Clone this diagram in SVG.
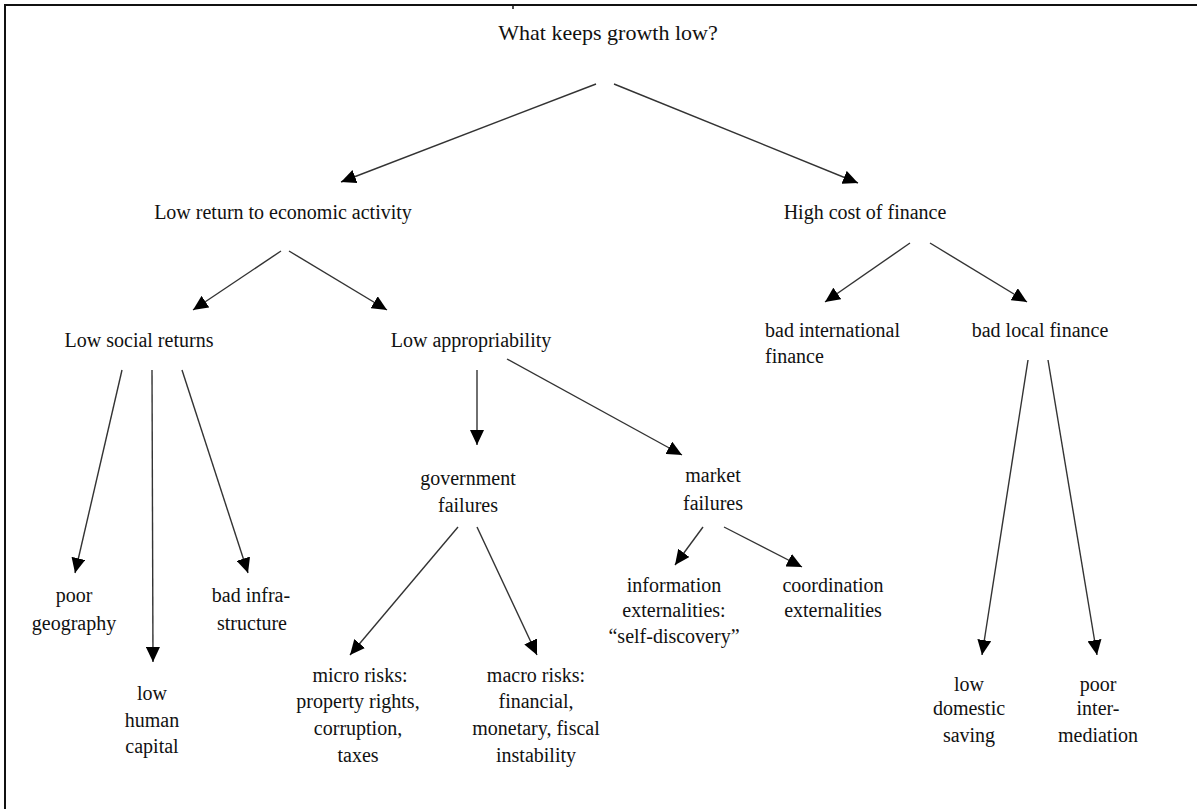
<svg xmlns="http://www.w3.org/2000/svg" width="1197" height="809" viewBox="0 0 1197 809">
<style>
text{font-family:'Liberation Serif','Times New Roman',Tinos,'DejaVu Serif',serif;font-size:20px;fill:#111;text-anchor:middle}
.t{font-size:22px}
.c line{stroke:#333;stroke-width:1.4;marker-end:url(#ah)}
.b{stroke:#111;stroke-width:2;fill:none}
</style>
<defs>
<marker id="ah" markerUnits="userSpaceOnUse" markerWidth="16" markerHeight="14" refX="15" refY="7" orient="auto">
<path d="M0,0 L15,7 L0,14 z" fill="#000"/>
</marker>
</defs>
<rect width="1197" height="809" fill="#fff"/>
<path class="b" d="M5,809 V5 H1197"/>
<line x1="513" y1="5" x2="513" y2="9" stroke="#111" stroke-width="1.5"/>
<g class="c">
<line x1="596" y1="84" x2="341" y2="182"/>
<line x1="614" y1="84" x2="858" y2="183"/>
<line x1="281" y1="251" x2="193" y2="310"/>
<line x1="289" y1="251" x2="387" y2="310"/>
<line x1="910" y1="243" x2="825" y2="302"/>
<line x1="930" y1="243" x2="1027" y2="302"/>
<line x1="122" y1="370" x2="75" y2="573"/>
<line x1="152" y1="370" x2="153" y2="662"/>
<line x1="182" y1="370" x2="248" y2="573"/>
<line x1="477" y1="370" x2="477" y2="445"/>
<line x1="507" y1="359" x2="682" y2="455"/>
<line x1="458" y1="527" x2="350" y2="655"/>
<line x1="477" y1="527" x2="537" y2="655"/>
<line x1="703" y1="527" x2="675" y2="565"/>
<line x1="724" y1="527" x2="802" y2="567"/>
<line x1="1028" y1="360" x2="982" y2="655"/>
<line x1="1048" y1="360" x2="1097" y2="655"/>
</g>
<g id="root"><text class="t" x="608" y="40" font-family="Liberation Serif">What keeps growth low?</text></g>
<g id="low-return"><text x="283" y="219">Low return to economic activity</text></g>
<g id="high-cost"><text x="865" y="219">High cost of finance</text></g>
<g id="low-social"><text x="139" y="347">Low social returns</text></g>
<g id="low-approp"><text x="471" y="347">Low appropriability</text></g>
<g id="bad-intl"><text x="765" y="337" style="text-anchor:start">bad international</text><text x="765" y="363" style="text-anchor:start">finance</text></g>
<g id="bad-local"><text x="1040" y="337">bad local finance</text></g>
<g id="poor-geo"><text x="74" y="602">poor</text><text x="74" y="630">geography</text></g>
<g id="low-human"><text x="152" y="700">low</text><text x="152" y="727">human</text><text x="152" y="753">capital</text></g>
<g id="bad-infra"><text x="251" y="602">bad infra-</text><text x="252" y="630">structure</text></g>
<g id="gov-fail"><text x="468" y="485">government</text><text x="468" y="512">failures</text></g>
<g id="mkt-fail"><text x="713" y="482">market</text><text x="713" y="510">failures</text></g>
<g id="micro"><text x="360" y="682">micro risks:</text><text x="358" y="708">property rights,</text><text x="358" y="735">corruption,</text><text x="358" y="762">taxes</text></g>
<g id="macro"><text x="536" y="682">macro risks:</text><text x="536" y="708">financial,</text><text x="536" y="735">monetary, fiscal</text><text x="536" y="762">instability</text></g>
<g id="info-ext"><text x="674" y="592">information</text><text x="674" y="617">externalities:</text><text x="674" y="643">“self-discovery”</text></g>
<g id="coord-ext"><text x="833" y="592">coordination</text><text x="833" y="617">externalities</text></g>
<g id="low-saving"><text x="969" y="691">low</text><text x="969" y="715">domestic</text><text x="969" y="742">saving</text></g>
<g id="poor-inter"><text x="1098" y="691">poor</text><text x="1098" y="715">inter-</text><text x="1098" y="742">mediation</text></g>
</svg>
